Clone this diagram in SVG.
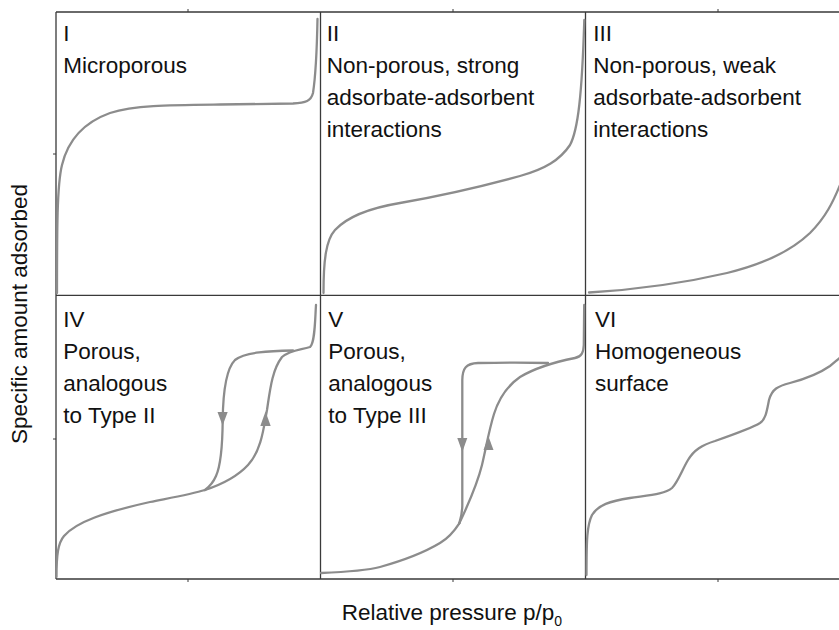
<svg xmlns="http://www.w3.org/2000/svg" width="839" height="630" viewBox="0 0 839 630">
<style>
.grid{stroke:#3a3a3a;stroke-width:1.3;fill:none}
.tick{stroke:#3a3a3a;stroke-width:1;fill:none}
.curve{stroke:#8c8c8c;stroke-width:2.3;fill:none;stroke-linecap:round;stroke-linejoin:round}
.arrow{fill:#8c8c8c;stroke:none}
.lbl{font-family:"Liberation Sans","Open Sans",Arial,sans-serif;font-size:22.5px;fill:#111}
</style>
<rect width="839" height="630" fill="#ffffff"/>
<g id="axes">
  <path class="grid" d="M56,12 H850 M56,295.3 H850 M56,579 H850 M56,12 V579 M320.5,12 V579 M585.5,12 V579"/>
  <path class="tick" d="M188,9 V12 M453,9 V12 M718,9 V12 M188,579 V582 M453,579 V582 M718,579 V582 M53,154 H56 M53,439 H56"/>
  <text class="lbl" transform="translate(27,314) rotate(-90)" text-anchor="middle">Specific amount adsorbed</text>
  <text class="lbl" x="341.7" y="620">Relative pressure p/p<tspan font-size="14" dy="6">0</tspan></text>
</g>
<g id="panel-I">
  <text class="lbl" x="63.3" y="40.7">I</text>
  <text class="lbl" x="63.3" y="72.5">Microporous</text>
</g>
<g id="panel-II">
  <text class="lbl" x="326.7" y="40.7">II</text>
  <text class="lbl" x="326.7" y="72.5">Non-porous, strong</text>
  <text class="lbl" x="326.7" y="104.5">adsorbate-adsorbent</text>
  <text class="lbl" x="326.7" y="136.7">interactions</text>
</g>
<g id="panel-III">
  <text class="lbl" x="593.3" y="40.7">III</text>
  <text class="lbl" x="593.3" y="72.5">Non-porous, weak</text>
  <text class="lbl" x="593.3" y="104.5">adsorbate-adsorbent</text>
  <text class="lbl" x="593.3" y="136.7">interactions</text>
</g>
<g id="panel-IV">
  <text class="lbl" x="63.3" y="326.7">IV</text>
  <text class="lbl" x="63.3" y="358.5">Porous,</text>
  <text class="lbl" x="63.3" y="390.8">analogous</text>
  <text class="lbl" x="63.3" y="423.3">to Type II</text>
</g>
<g id="panel-V">
  <text class="lbl" x="328.3" y="326.7">V</text>
  <text class="lbl" x="328.3" y="358.5">Porous,</text>
  <text class="lbl" x="328.3" y="390.8">analogous</text>
  <text class="lbl" x="328.3" y="423.3">to Type III</text>
</g>
<g id="panel-VI">
  <text class="lbl" x="595" y="326.7">VI</text>
  <text class="lbl" x="595" y="358.5">Homogeneous</text>
  <text class="lbl" x="595" y="390.8">surface</text>
</g>
<g id="connectors">
  <path id="curve-I" class="curve" d="M57,293 C57,230 57,185 62,165 C68,140 85,122 110,113 C135,105 170,105 220,104.5 L293,103.5 C306,103 311,101 313,93 C315,80 317,45 317.5,19"/>
  <path id="curve-II" class="curve" d="M323.5,293 C323.5,260 326,240 335,230 C348,216 370,208 400,203 C440,196 480,187 520,176 C545,169 560,160 570,145 C578,130 582,95 584.3,20"/>
  <path id="curve-III" class="curve" d="M589,292.5 C630,290 680,284 727,273 C760,265 790,252 810,233 C825,218 833,203 842,180"/>
  <path id="curve-IV-main" class="curve" d="M56.5,577 C56.5,555 58,543 64,536 C76,522 105,512 150,502 C175,497 192,494 205,490"/>
  <path id="curve-IV-ads" class="curve" d="M205,490 C220,485 236,478 248,465 C262,450 264,425 267,410 C270,390 272,370 282,357 C290,350 300,350 310,347 C315,343 315,320 316,305"/>
  <path id="curve-IV-des" class="curve" d="M293,350.5 C270,351 245,352 235,360 C225,370 223,395 222.7,420 C222.5,445 221,465 216,476 C213,483 209,487 205,490"/>
  <polygon class="arrow" points="217.5,412 227.7,412 222.6,425.5"/>
  <polygon class="arrow" points="265.5,411.5 260.3,426 270.7,426"/>
  <path id="curve-V-main" class="curve" d="M321,573 C345,572 365,571 380,567 C405,560 425,552 440,543 C450,537 455,530 459.3,523.3"/>
  <path id="curve-V-ads" class="curve" d="M459.3,523.3 C468,505 477,485 482,465 C486,448 489,430 494,414 C499,398 507,386 520,377 C535,368 555,362 575,358 C582,356.5 583.5,352 583.8,345 L584.2,305"/>
  <path id="curve-V-des" class="curve" d="M548,363 C530,362.5 500,362.5 478,363 C466,363.5 462.5,368 462.3,380 L462.3,505 C462.3,513 461,518 459.3,523.3"/>
  <polygon class="arrow" points="457.3,438 467.3,438 462.3,452"/>
  <polygon class="arrow" points="488.5,436.5 483.5,450 493.5,450"/>
  <path id="curve-VI" class="curve" d="M586.5,575 C586.5,540 587,525 592,515 C598,505 610,501 630,498 C650,495 665,494 672,488 C678,482 682,470 688,460 C694,450 702,445 715,441 C735,434 752,428 760,423 C766,419 767,410 769,400 C772,389 778,386 790,383 C805,379 820,373 830,366 C834,363 837,360 842,356"/>
</g>
</svg>
